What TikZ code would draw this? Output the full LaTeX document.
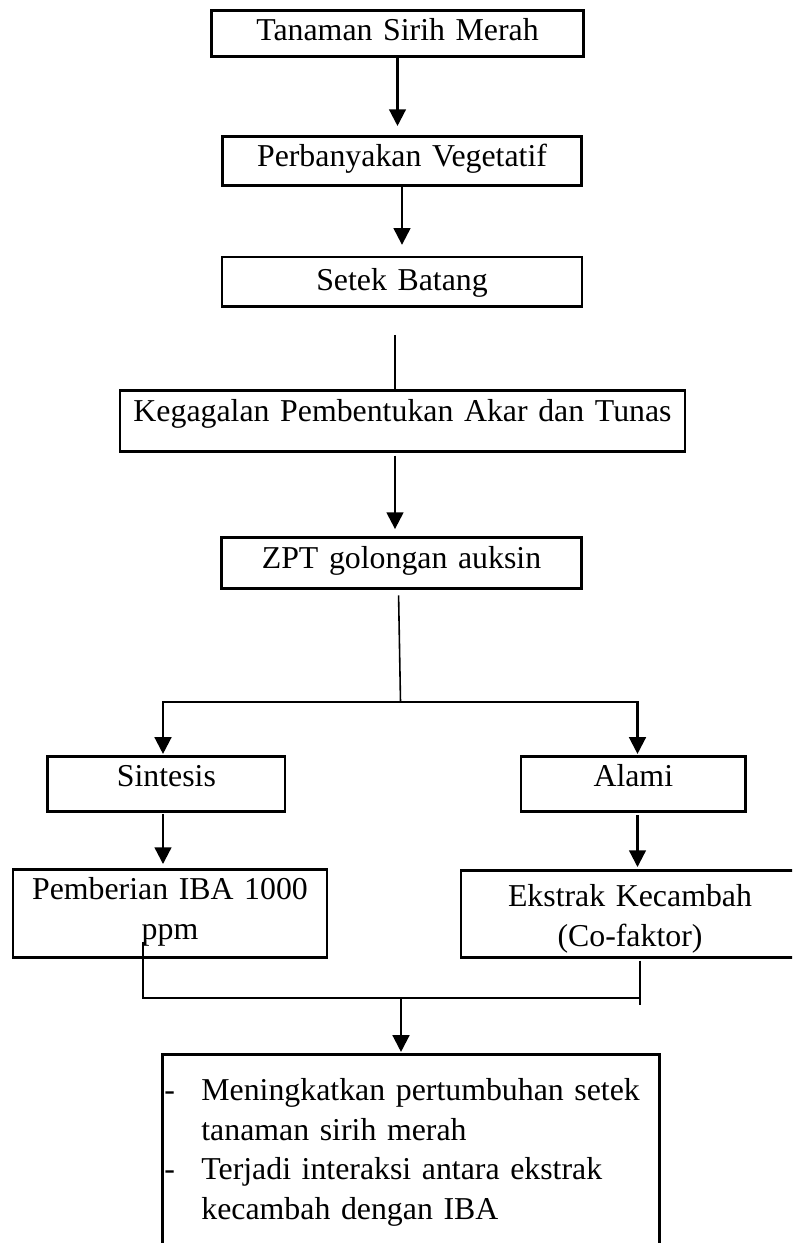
\documentclass[tikz,border=0pt]{standalone}
\usepackage{fontspec}
\setmainfont{Liberation Serif}
\usetikzlibrary{arrows.meta}

\begin{document}
\begin{tikzpicture}[
    x=0.377pt, y=-0.377pt,
    kotak/.style={draw,line width=1.05pt,inner sep=0pt,anchor=north,align=center,font=\fontsize{12}{15}\selectfont},
    panah/.style={line width=0.85pt,-{Triangle[length=6.3pt,width=6.3pt]}},
    garis/.style={line width=0.85pt},
    tipis/.style={line width=0.6pt}
]
\clip (0,0) rectangle (792,1243);

\node[kotak,text width=140.1pt,text height=11.42pt,text depth=5.92pt] (T)  at (397.5,9)   {Tanaman Sirih Merah};
\node[kotak,text width=135.5pt,text height=11.31pt,text depth=7.16pt] (P)  at (402,135)   {Perbanyakan Vegetatif};
\node[kotak,text width=135.7pt,text height=12.55pt,text depth=6.03pt] (S)  at (402,255.7) {Setek Batang};
\node[kotak,text width=213.0pt,text height=11.69pt,text depth=11.31pt] (K) at (402.5,389) {Kegagalan Pembentukan Akar dan Tunas};
\node[kotak,text width=135.6pt,text height=11.69pt,text depth=7.54pt] (Z)  at (401.5,536) {ZPT golongan auksin};
\node[kotak,text width=89.5pt,text height=11.31pt,text depth=9.43pt]  (Si) at (166.4,755) {Sintesis};
\node[kotak,text width=84.7pt,text height=11.31pt,text depth=9.43pt]  (A)  at (633.3,755) {Alami};
\node[kotak,text width=118.4pt,text height=11.31pt,text depth=21.87pt] (I) at (170,868)   {Pemberian IBA 1000\\ppm};
\node[kotak,text width=127.4pt,text height=13.57pt,text depth=19.23pt] (E) at (630,869)   {Ekstrak Kecambah\\(Co-faktor)};
\node[kotak,anchor=north west,align=left,text width=187.4pt,text height=17.34pt,text depth=75.4pt] (H) at (161,1053) {%
\hspace*{0.75pt}\makebox[13.95pt][l]{-}Meningkatkan pertumbuhan setek\\
\hspace*{14.7pt}tanaman sirih merah\\
\hspace*{0.75pt}\makebox[13.95pt][l]{-}Terjadi interaksi antara ekstrak\\
\hspace*{14.7pt}kecambah dengan IBA};

\coordinate (sumbu) at (395,0);
\coordinate (cabang) at (400.5,702);
\coordinate (kiri) at (163,702);
\coordinate (kanan) at (637.5,702);
\coordinate (ujungKiri) at (142.7,941.7);
\coordinate (ujungKanan) at (640,960.7);
\coordinate (gabung) at (401,997.7);

\draw[panah,shorten >=3.4pt] (T.south) -- (T.south |- P.north);
\draw[panah,shorten >=4.1pt] (P.south) -- (S.north);
\draw[garis,shorten <=10.2pt] (S.south -| sumbu) -- (K.north -| sumbu);
\draw[panah,shorten <=1.1pt,shorten >=2.6pt] (K.south -| sumbu) -- (Z.north -| sumbu);
\draw[tipis] ([xshift=-1.1pt,yshift=-2.1pt]Z.south) -- (cabang);
\draw[panah,shorten >=0.4pt] (cabang) -| (Si.north -| kiri);
\draw[panah,shorten >=0.4pt] (cabang) -| (A.north -| kanan);
\draw[panah,shorten <=0.4pt,shorten >=1.5pt] (Si.south -| kiri) -- (I.north -| kiri);
\draw[panah,shorten <=1pt,shorten >=0.75pt] (A.south -| kanan) -- (E.north -| kanan);
\draw[garis] (ujungKiri) |- (ujungKanan |- gabung);
\draw[tipis] (ujungKanan) -- ++(0,44.3);
\draw[panah,shorten >=0.4pt] (gabung) -- (H.north -| gabung);
\end{tikzpicture}
\end{document}
